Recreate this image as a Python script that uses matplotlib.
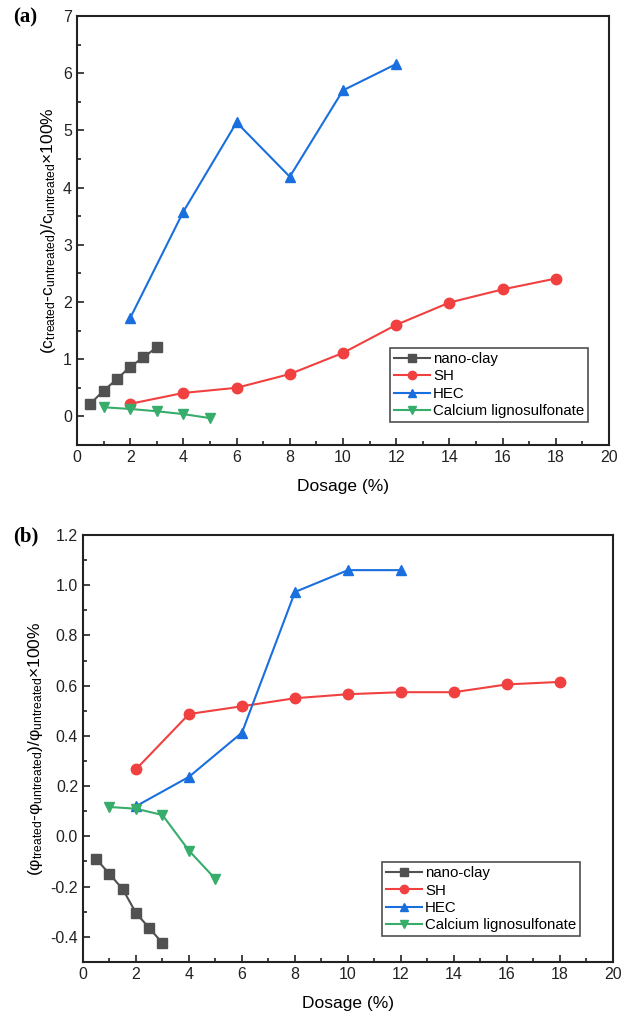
import matplotlib
matplotlib.use('Agg')
import matplotlib.pyplot as plt
from matplotlib.ticker import MultipleLocator

plt.rcParams['font.family'] = ['Liberation Sans', 'DejaVu Sans']
plt.rcParams['mathtext.fontset'] = 'custom'
plt.rcParams['mathtext.rm'] = 'Liberation Sans'
plt.rcParams['mathtext.it'] = 'Liberation Sans'
plt.rcParams['axes.unicode_minus'] = False

# dosage (%)
nano_x = [0.5, 1, 1.5, 2, 2.5, 3]
sh_x = [2, 4, 6, 8, 10, 12, 14, 16, 18]
hec_x = [2, 4, 6, 8, 10, 12]
cl_x = [1, 2, 3, 4, 5]

# (a) cohesion change
nano_c = [0.22, 0.45, 0.65, 0.87, 1.03, 1.21]
sh_c = [0.22, 0.41, 0.50, 0.74, 1.11, 1.60, 1.99, 2.22, 2.41]
hec_c = [1.72, 3.58, 5.14, 4.19, 5.70, 6.16]
cl_c = [0.16, 0.13, 0.09, 0.04, -0.03]

# (b) friction angle change
nano_phi = [-0.09, -0.15, -0.21, -0.305, -0.365, -0.425]
sh_phi = [0.267, 0.487, 0.518, 0.55, 0.566, 0.574, 0.574, 0.605, 0.615]
hec_phi = [0.12, 0.237, 0.413, 0.973, 1.06, 1.06]
cl_phi = [0.117, 0.11, 0.085, -0.057, -0.17]

labels = ['nano-clay', 'SH', 'HEC', 'Calcium lignosulfonate']
colors = ['#515151', '#F14040', '#1A6FDF', '#37AD6B']
markers = ['s', 'o', '^', 'v']
msizes = [6.5, 7.5, 7.5, 7.5]


def draw(ax, ys, ylim, ymajor, yminor, yfmt, ylabel, tag, tag_y, anchor):
    xs = [nano_x, sh_x, hec_x, cl_x]
    for x, y, lab, c, m, ms in zip(xs, ys, labels, colors, markers, msizes):
        ax.plot(x, y, color=c, marker=m, markersize=ms, lw=1.5, label=lab)
    ax.set_xlim(0, 20)
    ax.set_ylim(*ylim)
    ax.xaxis.set_major_locator(MultipleLocator(2))
    ax.xaxis.set_minor_locator(MultipleLocator(1))
    ax.yaxis.set_major_locator(MultipleLocator(ymajor))
    ax.yaxis.set_minor_locator(MultipleLocator(yminor))
    ax.yaxis.set_major_formatter(yfmt)
    ax.tick_params(which='both', direction='in', top=False, right=False,
                   labelsize=11.5, colors='#222222')
    ax.tick_params(which='major', length=5, width=1.2)
    ax.tick_params(which='minor', length=3, width=1.2)
    for s in ax.spines.values():
        s.set_linewidth(1.5)
        s.set_color('#222222')
    ax.set_xlabel('Dosage (%)', fontsize=12.5, labelpad=10)
    ax.set_ylabel(ylabel, fontsize=12.5, labelpad=4)
    leg = ax.legend(loc='lower right', fontsize=10.8, frameon=True, fancybox=False,
                    edgecolor='#222222', handlelength=2.4, handletextpad=0.2,
                    borderpad=0.25, labelspacing=0.22, markerscale=0.8,
                    borderaxespad=0, bbox_to_anchor=anchor)
    leg.get_frame().set_linewidth(1.2)
    fig.text(13 / 630, 1 - tag_y / 1019, tag, fontsize=15, fontweight='bold',
             family='Liberation Serif', va='center', ha='left')


fig = plt.figure(figsize=(6.3, 10.19), dpi=100)
ax1 = fig.add_axes([0.1222, 0.5633, 0.8444, 0.4210])
ax2 = fig.add_axes([0.1317, 0.0560, 0.8413, 0.4190])

draw(ax1, [nano_c, sh_c, hec_c, cl_c], (-0.5, 7), 1, 0.5, '{x:.0f}',
     r'$(\mathrm{c_{treated}}$-$\mathrm{c_{untreated}})/\mathrm{c_{untreated}}$×100%',
     '(a)', 17, (0.9605, 0.054))
draw(ax2, [nano_phi, sh_phi, hec_phi, cl_phi], (-0.5, 1.2), 0.2, 0.1, '{x:.1f}',
     r'$(\mathrm{φ_{treated}}$-$\mathrm{φ_{untreated}})/\mathrm{φ_{untreated}}$×100%',
     '(b)', 536, (0.938, 0.061))

fig.savefig('out.png', dpi=100)
